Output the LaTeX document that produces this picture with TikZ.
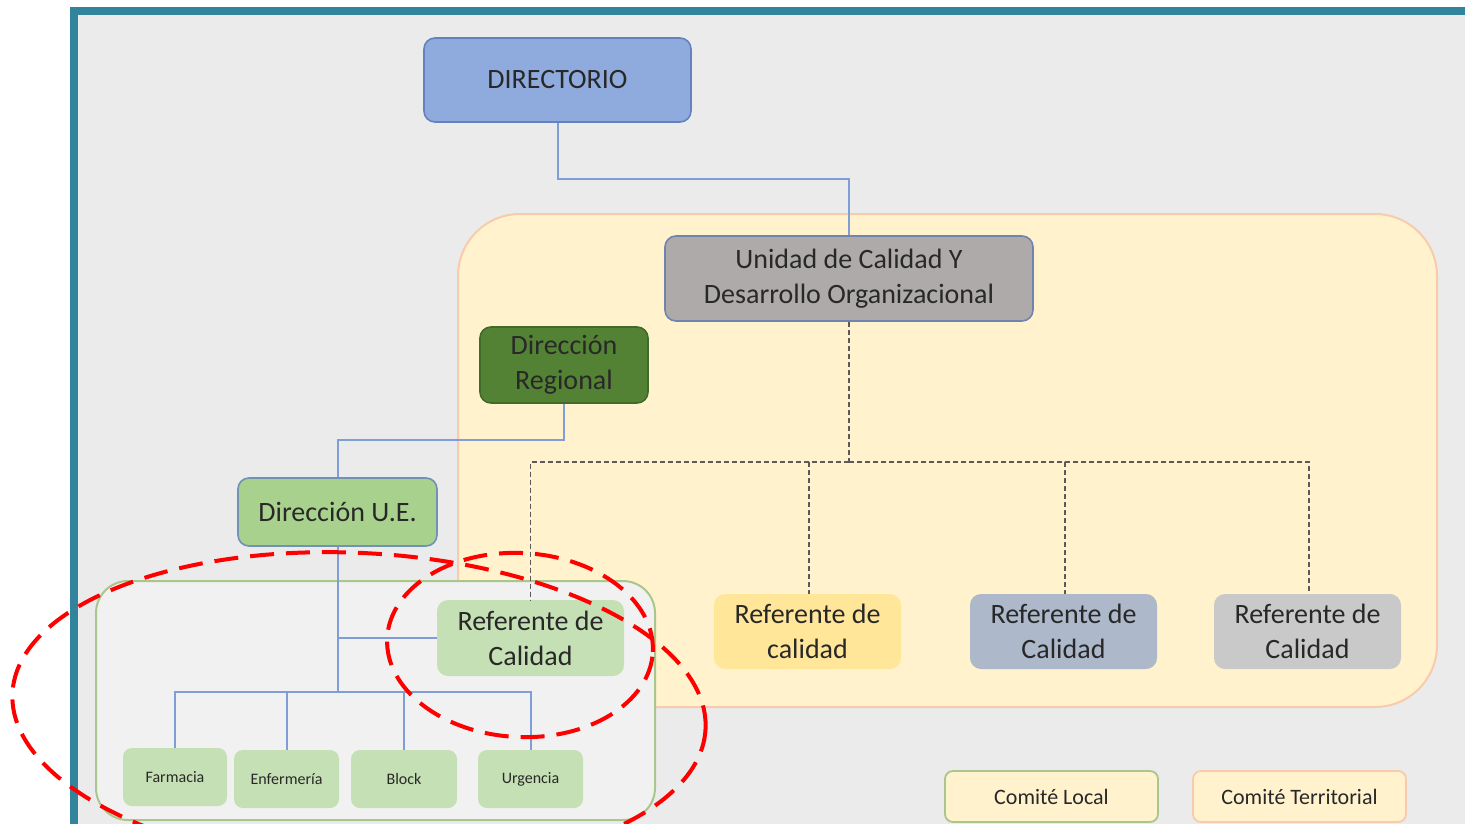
\documentclass[tikz,border=0pt]{standalone}
\usepackage{fontspec}
\setmainfont{Carlito}
\definecolor{frame}{HTML}{31849B}
\definecolor{panel}{HTML}{EBEBEB}
\definecolor{terrfill}{HTML}{FFF2CC}
\definecolor{terrline}{HTML}{F8CBAD}
\definecolor{localfill}{HTML}{F1F1F1}
\definecolor{localline}{HTML}{A9C68C}
\definecolor{txt}{HTML}{282828}
\definecolor{link}{HTML}{7F9DD6}
\definecolor{dashc}{HTML}{5A5A5A}
\definecolor{dirfill}{HTML}{8FAADC}
\definecolor{dirline}{HTML}{6482BE}
\definecolor{unifill}{HTML}{AEAAAA}
\definecolor{uniline}{HTML}{6F84AE}
\definecolor{regfill}{HTML}{548235}
\definecolor{regline}{HTML}{3F6A2A}
\definecolor{uefill}{HTML}{A9D18E}
\definecolor{ueline}{HTML}{7191B5}
\definecolor{lightgreen}{HTML}{C5E0B4}
\definecolor{yel}{HTML}{FFE699}
\definecolor{bluegray}{HTML}{ADB9CA}
\definecolor{midgray}{HTML}{C9C9C9}
\tikzset{
  orgbox/.style={rounded corners=11pt, align=center, text=txt, inner sep=0pt,
    font=\fontsize{28}{35}\selectfont},
  framed/.style={orgbox, draw, line width=1.6pt},
  unit/.style={orgbox, rounded corners=9pt, fill=lightgreen,
    font=\fontsize{16}{19}\selectfont, minimum width=105pt, minimum height=58pt},
  legend/.style={orgbox, rounded corners=8pt, draw, line width=1.8pt, fill=terrfill,
    font=\fontsize{22}{26}\selectfont, minimum width=213pt, minimum height=51pt},
  solidlink/.style={draw=link, line width=2pt},
  dashlink/.style={draw=dashc, line width=1.5pt, dash pattern=on 5pt off 3pt},
  redring/.style={draw=red, line width=4pt, dash pattern=on 24pt off 12pt}
}
\begin{document}
\begin{tikzpicture}[x=1pt, y=-1pt]
\useasboundingbox (0,0) rectangle (1465,823);
\fill[white] (0,0) rectangle (1465,823);
% outer frame and panel
\fill[frame] (70,7) rectangle (1475,833);
\fill[panel] (78,15) rectangle (1475,833);

% committee regions
\draw[fill=terrfill, draw=terrline, line width=2pt, rounded corners=62pt]
  (458,214) rectangle (1437,707);
\draw[fill=localfill, draw=localline, line width=2pt, rounded corners=32pt]
  (96,581) rectangle (655,820);

% nodes
\node[framed, fill=dirfill, draw=dirline, minimum width=267pt, minimum height=84pt]
  (dir) at (557.5,80) {DIRECTORIO};
\node[framed, fill=unifill, draw=uniline, minimum width=368pt, minimum height=85pt]
  (uni) at (849,278.5) {Unidad de Calidad Y\\Desarrollo Organizacional};
\node[framed, fill=regfill, draw=regline, minimum width=168pt, minimum height=76pt]
  (dreg) at (564,365) {Dirección\\Regional};
\node[framed, fill=uefill, draw=ueline, minimum width=199pt, minimum height=68pt]
  (due) at (337.5,512) {Dirección U.E.};
\node[orgbox, fill=lightgreen, minimum width=187pt, minimum height=76pt]
  (refl) at (530.5,638) {Referente de\\Calidad};
\node[orgbox, fill=yel, minimum width=187pt, minimum height=75pt]
  (refy) at (807.5,631.5) {Referente de\\calidad};
\node[orgbox, fill=bluegray, minimum width=187pt, minimum height=75pt]
  (refb) at (1063.5,631.5) {Referente de\\Calidad};
\node[orgbox, fill=midgray, minimum width=187pt, minimum height=75pt]
  (refg) at (1307.5,631.5) {Referente de\\Calidad};
\node[unit, minimum width=104pt] (farm) at (175,777) {Farmacia};
\node[unit] (enf) at (286.5,779) {Enfermería};
\node[unit, minimum width=106pt] (block) at (404,779) {Block};
\node[unit] (urg) at (530.5,779) {Urgencia};
\node[legend, draw=localline] (clocal) at (1051.5,796.5) {Comité Local};
\node[legend, draw=terrline] (cterr) at (1299.5,796.5) {Comité Territorial};

% junction levels
\coordinate (j1) at (0,179);
\coordinate (j2) at (0,440);
\coordinate (j3) at (0,462);
\coordinate (j4) at (0,692);

% solid reporting lines
\draw[solidlink] (dir.south) -- (dir.south |- j1) -| (uni.north);
\draw[solidlink] (dreg.south) -- (dreg.south |- j2) -| (due.north);
\draw[solidlink] (due.south) -- (due.south |- j4);
\draw[solidlink] (due.south |- refl.west) -- (refl.west);
\draw[solidlink] (due.south |- j4) -| (farm.north);
\draw[solidlink] (due.south |- j4) -| (enf.north);
\draw[solidlink] (due.south |- j4) -| (block.north);
\draw[solidlink] (due.south |- j4) -| (urg.north);

% dashed quality links
\draw[dashlink] (uni.south) -- (uni.south |- j3);
\draw[dashlink] (uni.south |- j3) -| (refl.north);
\draw[dashlink] (uni.south |- j3) -| ([xshift=1.5pt]refy.north);
\draw[dashlink] (uni.south |- j3) -| ([xshift=1.5pt]refb.north);
\draw[dashlink] (uni.south |- j3) -| ([xshift=1.5pt]refg.north);

% highlight rings
\draw[redring, rotate around={-3:(359,711)}] (359,711) ellipse [x radius=347pt, y radius=158pt];
\draw[redring, rotate around={-3:(520,645)}] (520,645) ellipse [x radius=133pt, y radius=92pt];
\end{tikzpicture}
\end{document}
